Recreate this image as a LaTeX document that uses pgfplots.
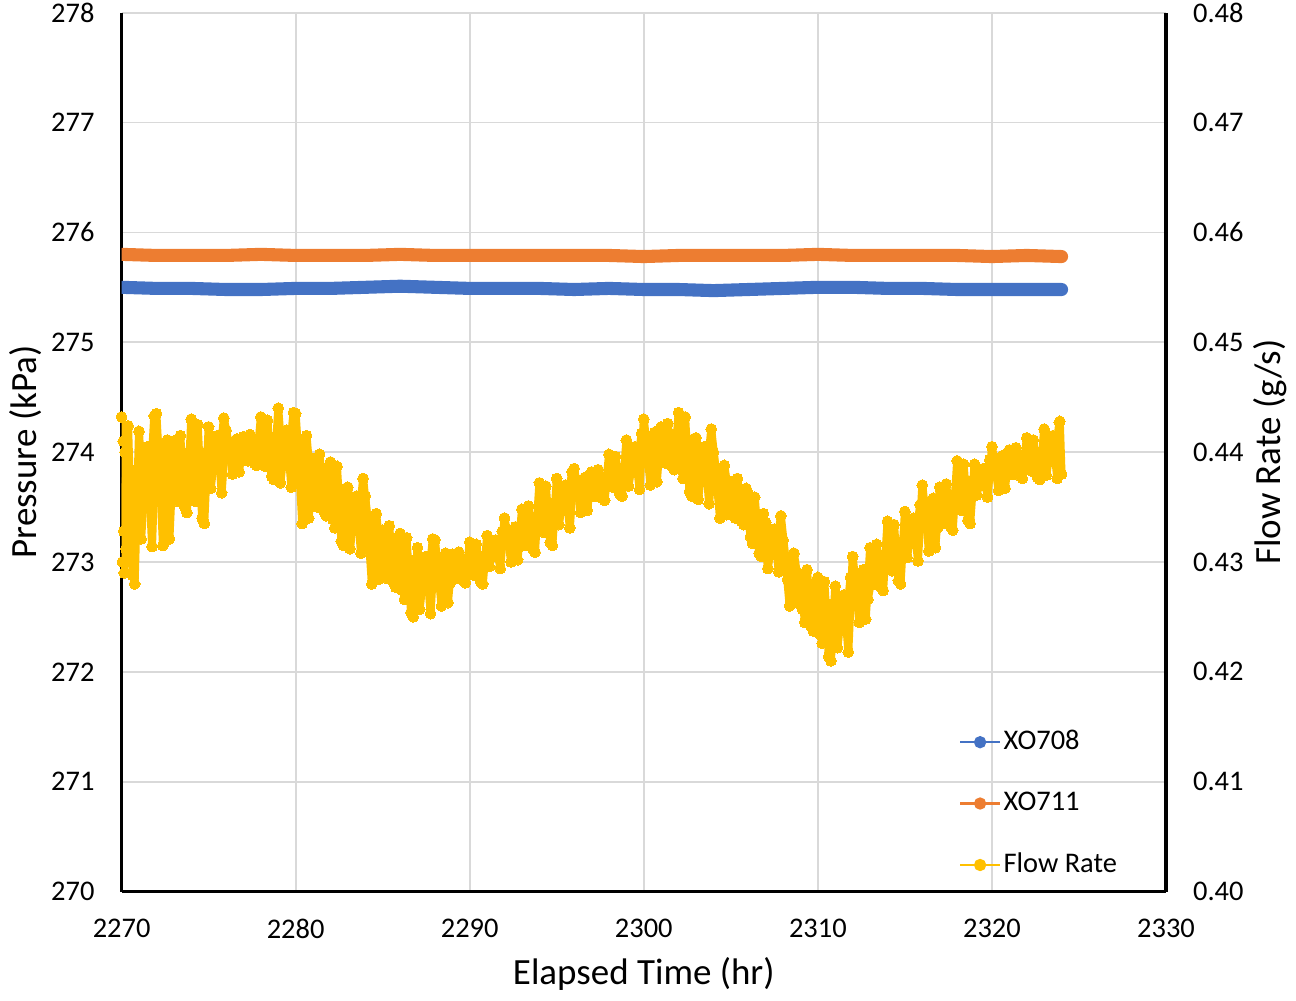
\documentclass[border=0pt]{standalone}
\usepackage{pgfplots}
\pgfplotsset{compat=1.18}
\usepackage{fontspec}
\setmainfont{Carlito}
\definecolor{cBlue}{HTML}{4472C4}
\definecolor{cOrange}{HTML}{ED7D31}
\definecolor{cYellow}{HTML}{FFC000}
\definecolor{gridgray}{HTML}{D9D9D9}
\begin{document}
\begin{tikzpicture}
\pgfplotsset{
  common/.style={
    scale only axis, width=367.2pt, height=309pt,
    xmin=2270, xmax=2330,
    major tick length=0pt,
    /pgf/number format/assume math mode=true,
    tick label style={font=\fontsize{10}{12}\selectfont},
    label style={font=\fontsize{13}{15}\selectfont},
    axis line style={line width=1.1pt, black},
    ylabel shift=-3.5pt,
  },
  flow/.style={cYellow, line width=2.8pt, line join=round, line cap=round, mark=*, mark size=1.9pt, mark options={fill=cYellow, draw=cYellow, line width=0pt}, forget plot},
}
\begin{axis}[common,
  ymin=270, ymax=278,
  xtick={2270,2280,...,2330}, ytick={270,271,...,278},
  xticklabel style={/pgf/number format/set thousands separator={}, yshift=-6pt},
  yticklabel style={xshift=-6pt, inner ysep=1pt},
  grid=major, grid style={color=gridgray, line width=0.6pt},
  axis x line*=bottom, axis y line*=left,
  xlabel={Elapsed Time (hr)}, ylabel={Pressure (kPa)},
]
\addplot[cBlue, line width=4.6pt, line cap=round] coordinates {
(2270,275.50) (2272,275.49) (2274,275.49) (2276,275.48) (2278,275.48) (2280,275.49) (2282,275.49) (2284,275.50) (2286,275.51) (2288,275.50) (2290,275.49) (2292,275.49) (2294,275.49) (2296,275.48) (2298,275.49) (2300,275.48) (2302,275.48) (2304,275.47) (2306,275.48) (2308,275.49) (2310,275.50) (2312,275.50) (2314,275.49) (2316,275.49) (2318,275.48) (2320,275.48) (2322,275.48) (2324,275.48)
};
\addplot[cOrange, line width=4.6pt, line cap=round] coordinates {
(2270,275.80) (2272,275.79) (2274,275.79) (2276,275.79) (2278,275.80) (2280,275.79) (2282,275.79) (2284,275.79) (2286,275.80) (2288,275.79) (2290,275.79) (2292,275.79) (2294,275.79) (2296,275.79) (2298,275.79) (2300,275.78) (2302,275.79) (2304,275.79) (2306,275.79) (2308,275.79) (2310,275.80) (2312,275.79) (2314,275.79) (2316,275.79) (2318,275.79) (2320,275.78) (2322,275.79) (2324,275.78)
};
\end{axis}
\begin{axis}[common,
  ymin=0.40, ymax=0.48,
  ytick={0.40,0.41,0.42,0.43,0.44,0.45,0.46,0.47,0.48},
  scaled y ticks=false,
  yticklabel style={/pgf/number format/fixed, /pgf/number format/fixed zerofill, /pgf/number format/precision=2, xshift=6pt, inner ysep=1pt},
  axis y line*=right, axis x line=none,
  ylabel={Flow Rate (g/s)},
  legend style={at={(rel axis cs:0.793,0.197)}, anchor=north west, draw=none, fill=none,
    font=\fontsize{10}{12}\selectfont, row sep=9.4pt, nodes={inner xsep=0.8pt}},
  legend cell align=left,
  legend image code/.code={\draw[mark repeat=2, mark phase=2, #1] plot coordinates {(0pt,0pt) (7pt,0pt) (14pt,0pt)};},
]
\addlegendimage{cBlue, line width=0.9pt, mark=*, mark size=1.7pt, mark options={fill=cBlue, draw=cBlue}}
\addlegendentry{XO708}
\addlegendimage{cOrange, line width=0.9pt, mark=*, mark size=1.7pt, mark options={fill=cOrange, draw=cOrange}}
\addlegendentry{XO711}
\addlegendimage{cYellow, line width=0.9pt, mark=*, mark size=1.7pt, mark options={fill=cYellow, draw=cYellow}}
\addlegendentry{Flow Rate}
\addplot[flow] table {
2270.00 0.4432
2270.05 0.4300
2270.10 0.4410
2270.15 0.4290
2270.20 0.4400
2270.25 0.4312
2270.50 0.4376
2270.75 0.4280
2271.00 0.4419
2271.25 0.4349
2271.50 0.4405
2271.75 0.4314
2272.00 0.4435
2272.25 0.4363
2272.50 0.4399
2272.75 0.4321
2273.00 0.4410
2273.25 0.4355
2273.50 0.4385
2273.75 0.4345
2274.00 0.4430
2274.25 0.4355
2274.50 0.4395
2274.75 0.4335
2275.00 0.4423
2275.25 0.4383
2275.50 0.4415
2275.75 0.4363
2276.00 0.4420
2276.25 0.4396
2276.50 0.4408
2276.75 0.4382
2277.00 0.4414
2277.25 0.4392
2277.50 0.4404
2277.75 0.4388
2278.00 0.4432
2278.25 0.4387
2278.50 0.4411
2278.75 0.4375
2279.00 0.4440
2279.25 0.4388
2279.50 0.4420
2279.75 0.4368
2280.00 0.4435
2280.25 0.4375
2280.50 0.4405
2280.75 0.4340
2281.00 0.4394
2281.25 0.4350
2281.50 0.4374
2281.75 0.4342
2282.00 0.4391
2282.25 0.4331
2282.50 0.4363
2282.75 0.4315
2283.00 0.4368
2283.25 0.4328
2283.50 0.4360
2283.75 0.4308
2284.00 0.4360
2284.25 0.4312
2284.50 0.4336
2284.75 0.4284
2285.00 0.4329
2285.25 0.4285
2285.50 0.4309
2285.75 0.4277
2286.00 0.4326
2286.25 0.4266
2286.50 0.4298
2286.75 0.4250
2287.00 0.4313
2287.25 0.4273
2287.50 0.4305
2287.75 0.4253
2288.00 0.4320
2288.25 0.4284
2288.50 0.4302
2288.75 0.4263
2289.00 0.4307
2289.25 0.4285
2289.50 0.4297
2289.75 0.4281
2290.00 0.4318
2290.25 0.4288
2290.50 0.4304
2290.75 0.4280
2291.00 0.4324
2291.25 0.4304
2291.50 0.4320
2291.75 0.4294
2292.00 0.4340
2292.25 0.4316
2292.50 0.4328
2292.75 0.4302
2293.00 0.4348
2293.25 0.4315
2293.50 0.4333
2293.75 0.4309
2294.00 0.4372
2294.25 0.4327
2294.50 0.4351
2294.75 0.4315
2295.00 0.4376
2295.25 0.4346
2295.50 0.4370
2295.75 0.4331
2296.00 0.4385
2296.25 0.4361
2296.50 0.4373
2296.75 0.4347
2297.00 0.4382
2297.25 0.4360
2297.50 0.4372
2297.75 0.4356
2298.00 0.4398
2298.25 0.4368
2298.50 0.4384
2298.75 0.4360
2299.00 0.4411
2299.25 0.4381
2299.50 0.4405
2299.75 0.4366
2300.00 0.4430
2300.25 0.4394
2300.50 0.4412
2300.75 0.4373
2301.00 0.4423
2301.25 0.4390
2301.50 0.4408
2301.75 0.4384
2302.00 0.4436
2302.25 0.4376
2302.50 0.4408
2302.75 0.4360
2303.00 0.4413
2303.25 0.4373
2303.50 0.4405
2303.75 0.4353
2304.00 0.4400
2304.25 0.4364
2304.50 0.4382
2304.75 0.4343
2305.00 0.4373
2305.25 0.4340
2305.50 0.4358
2305.75 0.4334
2306.00 0.4362
2306.25 0.4317
2306.50 0.4341
2306.75 0.4305
2307.00 0.4336
2307.25 0.4306
2307.50 0.4330
2307.75 0.4291
2308.00 0.4320
2308.25 0.4284
2308.50 0.4302
2308.75 0.4263
2309.00 0.4289
2309.25 0.4245
2309.50 0.4269
2309.75 0.4237
2310.00 0.4286
2310.25 0.4226
2310.50 0.4258
2310.75 0.4210
2311.00 0.4278
2311.25 0.4238
2311.50 0.4270
2311.75 0.4218
2312.00 0.4305
2312.25 0.4269
2312.50 0.4287
2312.75 0.4248
2313.00 0.4313
2313.25 0.4280
2313.50 0.4298
2313.75 0.4274
2314.00 0.4337
2314.25 0.4292
2314.50 0.4316
2314.75 0.4280
2315.00 0.4346
2315.25 0.4316
2315.50 0.4340
2315.75 0.4301
2316.00 0.4370
2316.25 0.4334
2316.50 0.4352
2316.75 0.4313
2317.00 0.4368
2317.25 0.4335
2317.50 0.4353
2317.75 0.4329
2318.00 0.4392
2318.25 0.4347
2318.50 0.4371
2318.75 0.4335
2319.00 0.4389
2319.25 0.4369
2319.50 0.4385
2319.75 0.4359
2320.00 0.4405
2320.25 0.4381
2320.50 0.4393
2320.75 0.4367
2321.00 0.4402
2321.25 0.4380
2321.50 0.4392
2321.75 0.4376
2322.00 0.4413
2322.25 0.4383
2322.50 0.4399
2322.75 0.4375
2323.00 0.4421
2323.25 0.4391
2323.50 0.4415
2323.75 0.4376
2323.90 0.4428
2324.00 0.4380
};
\addplot[flow] table {
2270.125 0.4328
2270.375 0.4424
2270.625 0.4288
2270.875 0.4384
2271.125 0.4321
2271.375 0.4384
2271.625 0.4363
2271.875 0.4433
2272.125 0.4405
2272.375 0.4315
2272.625 0.4411
2272.875 0.4357
2273.125 0.4370
2273.375 0.4415
2273.625 0.4350
2273.875 0.4400
2274.125 0.4365
2274.375 0.4425
2274.625 0.4340
2274.875 0.4400
2275.125 0.4367
2275.375 0.4403
2275.625 0.4391
2275.875 0.4431
2276.125 0.4410
2276.375 0.4380
2276.625 0.4412
2276.875 0.4394
2277.125 0.4398
2277.375 0.4416
2277.625 0.4390
2277.875 0.4410
2278.125 0.4393
2278.375 0.4429
2278.625 0.4378
2278.875 0.4414
2279.125 0.4372
2279.375 0.4408
2279.625 0.4396
2279.875 0.4436
2280.125 0.4410
2280.375 0.4335
2280.625 0.4415
2280.875 0.4370
2281.125 0.4362
2281.375 0.4398
2281.625 0.4346
2281.875 0.4386
2282.125 0.4339
2282.375 0.4387
2282.625 0.4319
2282.875 0.4367
2283.125 0.4312
2283.375 0.4348
2283.625 0.4336
2283.875 0.4376
2284.125 0.4340
2284.375 0.4280
2284.625 0.4344
2284.875 0.4308
2285.125 0.4297
2285.375 0.4333
2285.625 0.4281
2285.875 0.4321
2286.125 0.4274
2286.375 0.4322
2286.625 0.4254
2286.875 0.4302
2287.125 0.4257
2287.375 0.4293
2287.625 0.4281
2287.875 0.4321
2288.125 0.4305
2288.375 0.4260
2288.625 0.4308
2288.875 0.4281
2289.125 0.4291
2289.375 0.4309
2289.625 0.4283
2289.875 0.4303
2290.125 0.4292
2290.375 0.4316
2290.625 0.4282
2290.875 0.4306
2291.125 0.4296
2291.375 0.4314
2291.625 0.4308
2291.875 0.4328
2292.125 0.4330
2292.375 0.4300
2292.625 0.4332
2292.875 0.4314
2293.125 0.4324
2293.375 0.4351
2293.625 0.4312
2293.875 0.4342
2294.125 0.4333
2294.375 0.4369
2294.625 0.4318
2294.875 0.4354
2295.125 0.4334
2295.375 0.4361
2295.625 0.4352
2295.875 0.4382
2296.125 0.4375
2296.375 0.4345
2296.625 0.4377
2296.875 0.4359
2297.125 0.4366
2297.375 0.4384
2297.625 0.4358
2297.875 0.4378
2298.125 0.4372
2298.375 0.4396
2298.625 0.4362
2298.875 0.4386
2299.125 0.4369
2299.375 0.4396
2299.625 0.4387
2299.875 0.4417
2300.125 0.4415
2300.375 0.4370
2300.625 0.4418
2300.875 0.4391
2301.125 0.4399
2301.375 0.4426
2301.625 0.4387
2301.875 0.4417
2302.125 0.4384
2302.375 0.4432
2302.625 0.4364
2302.875 0.4412
2303.125 0.4357
2303.375 0.4393
2303.625 0.4381
2303.875 0.4421
2304.125 0.4385
2304.375 0.4340
2304.625 0.4388
2304.875 0.4361
2305.125 0.4349
2305.375 0.4376
2305.625 0.4337
2305.875 0.4367
2306.125 0.4323
2306.375 0.4359
2306.625 0.4308
2306.875 0.4344
2307.125 0.4294
2307.375 0.4321
2307.625 0.4312
2307.875 0.4342
2308.125 0.4305
2308.375 0.4260
2308.625 0.4308
2308.875 0.4281
2309.125 0.4257
2309.375 0.4293
2309.625 0.4241
2309.875 0.4281
2310.125 0.4234
2310.375 0.4282
2310.625 0.4214
2310.875 0.4262
2311.125 0.4222
2311.375 0.4258
2311.625 0.4246
2311.875 0.4286
2312.125 0.4290
2312.375 0.4245
2312.625 0.4293
2312.875 0.4266
2313.125 0.4289
2313.375 0.4316
2313.625 0.4277
2313.875 0.4307
2314.125 0.4298
2314.375 0.4334
2314.625 0.4283
2314.875 0.4319
2315.125 0.4304
2315.375 0.4331
2315.625 0.4322
2315.875 0.4352
2316.125 0.4355
2316.375 0.4310
2316.625 0.4358
2316.875 0.4331
2317.125 0.4344
2317.375 0.4371
2317.625 0.4332
2317.875 0.4362
2318.125 0.4353
2318.375 0.4389
2318.625 0.4338
2318.875 0.4374
2319.125 0.4361
2319.375 0.4379
2319.625 0.4373
2319.875 0.4393
2320.125 0.4395
2320.375 0.4365
2320.625 0.4397
2320.875 0.4379
2321.125 0.4386
2321.375 0.4404
2321.625 0.4378
2321.875 0.4398
2322.125 0.4387
2322.375 0.4411
2322.625 0.4377
2322.875 0.4401
2323.125 0.4379
2323.375 0.4406
2323.625 0.4397
2323.875 0.4427
};
\end{axis}
\end{tikzpicture}
\end{document}
